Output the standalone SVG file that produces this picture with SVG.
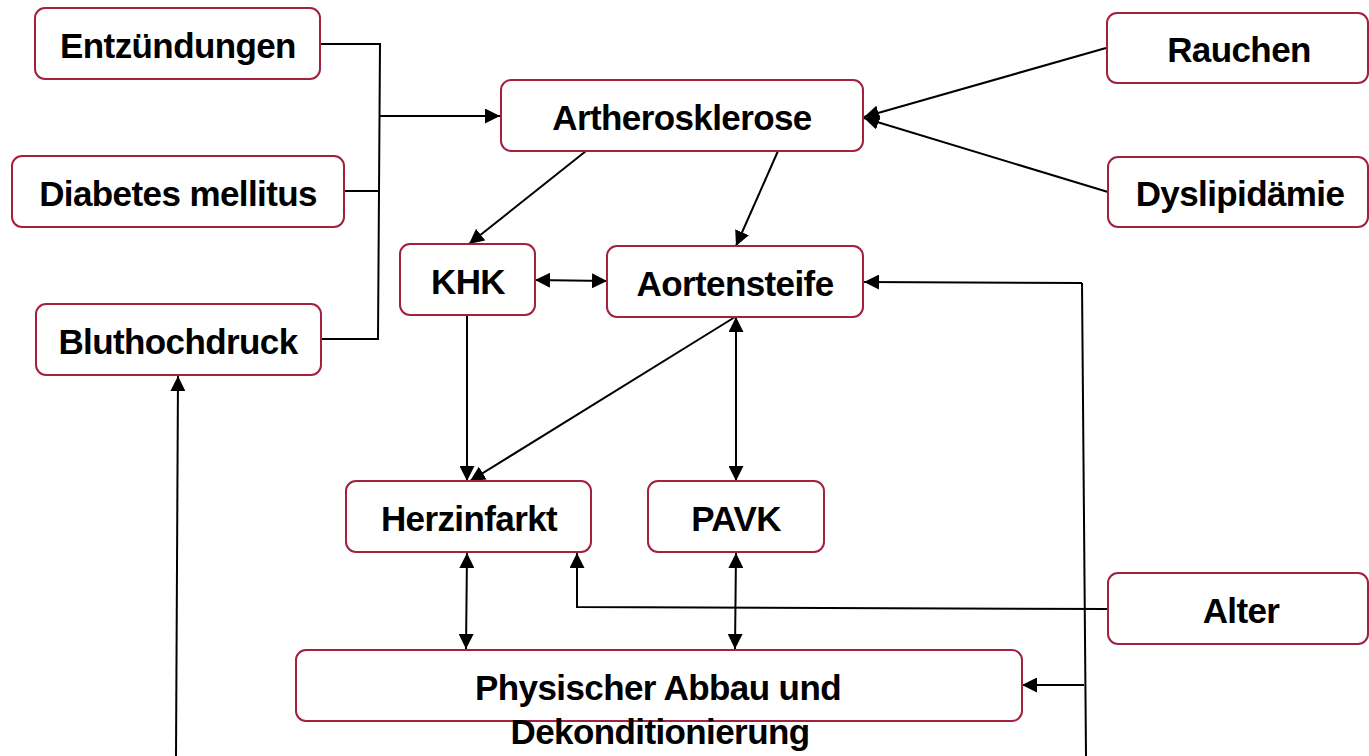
<svg xmlns="http://www.w3.org/2000/svg" width="1369" height="756" viewBox="0 0 1369 756">
<style>
.box{fill:#fff;stroke:#a3203f;stroke-width:2}
.lbl{font-family:"Liberation Sans",Arial,sans-serif;font-weight:bold;font-size:35px;letter-spacing:-0.6px;fill:#000;text-anchor:middle}
.ln{fill:none;stroke:#000;stroke-width:2}
</style>
<defs>
<marker id="ah" viewBox="0 0 15 15" refX="15" refY="7.5" markerWidth="15" markerHeight="15" markerUnits="userSpaceOnUse" orient="auto-start-reverse">
<path d="M0,0 L15,7.5 L0,15 z" fill="#000"/>
</marker>
</defs>
<rect width="1369" height="756" fill="#fff"/>
<g id="connectors">
<path class="ln" d="M321,44 L380,44 L378,339 L321,339"/>
<path class="ln" d="M344,191 L379,191"/>
<path class="ln" d="M380,116 L500,116" marker-end="url(#ah)"/>
<path class="ln" d="M1106,48 L864,117" marker-end="url(#ah)"/>
<path class="ln" d="M1108,192 L864,118" marker-end="url(#ah)"/>
<path class="ln" d="M586,151 L469,244" marker-end="url(#ah)"/>
<path class="ln" d="M778,151 L736,246" marker-end="url(#ah)"/>
<path class="ln" d="M535,280 L607,281" marker-start="url(#ah)" marker-end="url(#ah)"/>
<path class="ln" d="M467,316 L467,481" marker-end="url(#ah)"/>
<path class="ln" d="M735,317 L470,481" marker-end="url(#ah)"/>
<path class="ln" d="M736,317 L736,481" marker-start="url(#ah)" marker-end="url(#ah)"/>
<path class="ln" d="M467,553 L466,649" marker-start="url(#ah)" marker-end="url(#ah)"/>
<path class="ln" d="M736,553 L735,649" marker-start="url(#ah)" marker-end="url(#ah)"/>
<path class="ln" d="M1108,609 L577,607 L577,553" marker-end="url(#ah)"/>
<path class="ln" d="M1082,283 L1086,756"/>
<path class="ln" d="M1082,283 L864,282" marker-end="url(#ah)"/>
<path class="ln" d="M1084,685 L1022,685" marker-end="url(#ah)"/>
<path class="ln" d="M176,756 L178,376" marker-end="url(#ah)"/>
</g>
<g id="n-entzuendungen"><rect class="box" x="35" y="8" width="285" height="71" rx="10"/><text class="lbl" x="178" y="58">Entzündungen</text></g>
<g id="n-diabetes"><rect class="box" x="12" y="156" width="332" height="71" rx="10"/><text class="lbl" x="178" y="206">Diabetes mellitus</text></g>
<g id="n-bluthochdruck"><rect class="box" x="36" y="304" width="285" height="71" rx="10"/><text class="lbl" x="178" y="354">Bluthochdruck</text></g>
<g id="n-artherosklerose"><rect class="box" x="501" y="80" width="362" height="71" rx="10"/><text class="lbl" x="682" y="130">Artherosklerose</text></g>
<g id="n-rauchen"><rect class="box" x="1107" y="13" width="261" height="70" rx="10"/><text class="lbl" x="1239" y="62">Rauchen</text></g>
<g id="n-dyslipidaemie"><rect class="box" x="1108" y="157" width="260" height="70" rx="10"/><text class="lbl" x="1240" y="206">Dyslipidämie</text></g>
<g id="n-khk"><rect class="box" x="400" y="244" width="135" height="71" rx="10"/><text class="lbl" x="468" y="294">KHK</text></g>
<g id="n-aortensteife"><rect class="box" x="607" y="246" width="256" height="71" rx="10"/><text class="lbl" x="735" y="296">Aortensteife</text></g>
<g id="n-herzinfarkt"><rect class="box" x="346" y="481" width="245" height="71" rx="10"/><text class="lbl" x="469" y="531">Herzinfarkt</text></g>
<g id="n-pavk"><rect class="box" x="648" y="481" width="176" height="71" rx="10"/><text class="lbl" x="736" y="531">PAVK</text></g>
<g id="n-alter"><rect class="box" x="1108" y="573" width="260" height="71" rx="10"/><text class="lbl" x="1241" y="623">Alter</text></g>
<g id="n-physischer"><rect class="box" x="296" y="650" width="726" height="71" rx="10"/><text class="lbl" x="658" y="700">Physischer Abbau und</text><text class="lbl" x="660" y="744">Dekonditionierung</text></g>
</svg>
